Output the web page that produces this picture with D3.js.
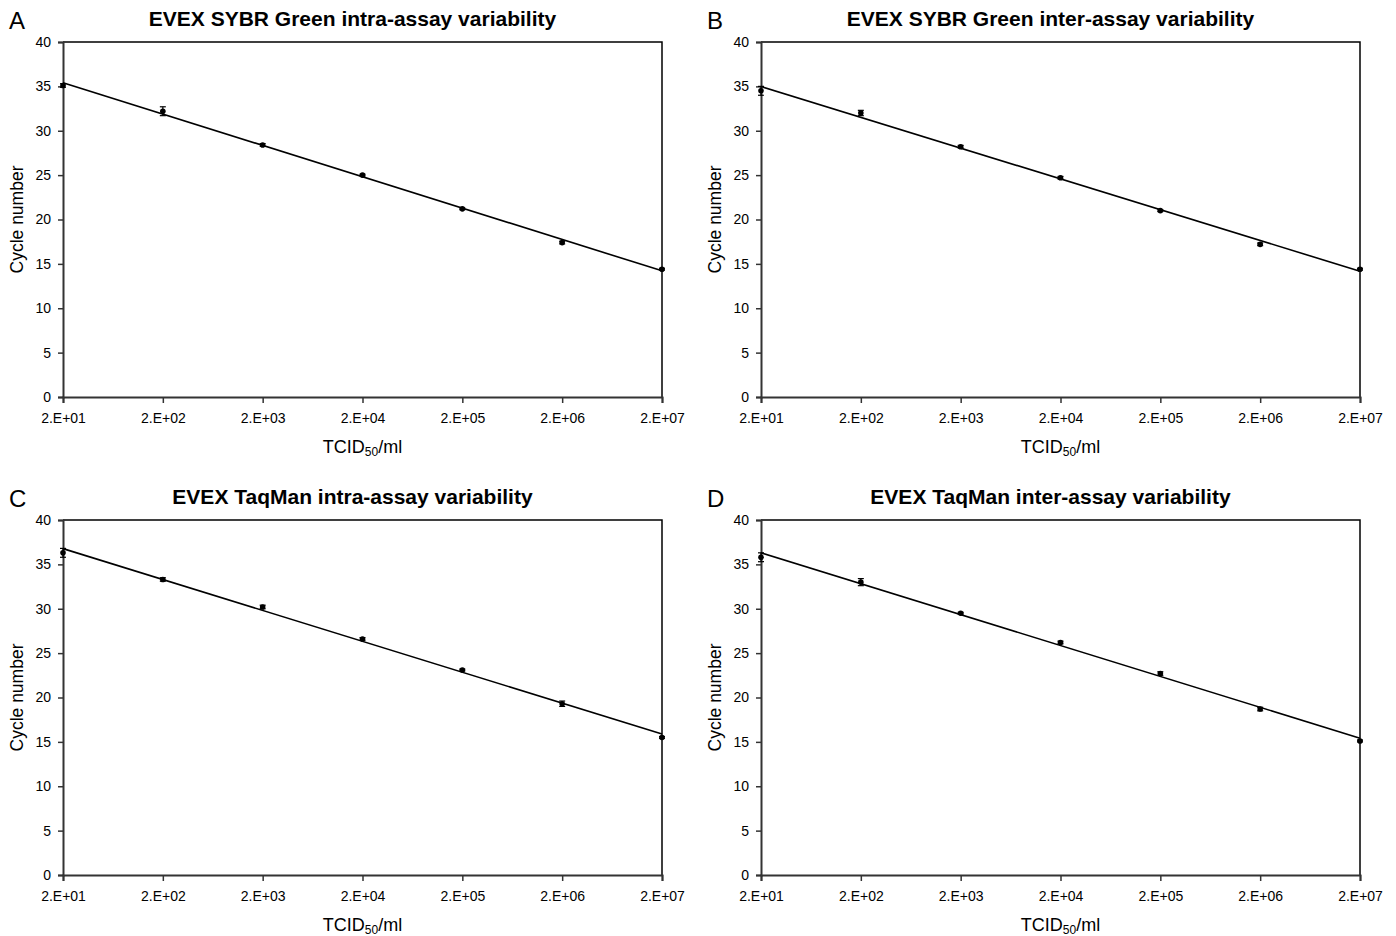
<!DOCTYPE html>
<html>
<head>
<meta charset="utf-8">
<script src="https://cdn.jsdelivr.net/npm/d3@7"></script>
<style>
  body { margin: 0; background: #fff; }
  text { font-family: "Liberation Sans", Arial, sans-serif; fill: #000; }
</style>
</head>
<body>
<svg id="chart" width="1396" height="936"></svg>
<script>
// x categories (log10 steps of TCID50/ml)
const xLabels = ["2.E+01", "2.E+02", "2.E+03", "2.E+04", "2.E+05", "2.E+06", "2.E+07"];
const yTicks = [0, 5, 10, 15, 20, 25, 30, 35, 40];

const panelLetters = ["A", "B", "C", "D"];
const panelTitles = [
  "EVEX SYBR Green intra-assay variability",
  "EVEX SYBR Green inter-assay variability",
  "EVEX TaqMan intra-assay variability",
  "EVEX TaqMan inter-assay variability"
];

// mean cycle numbers per dilution
const sybrIntra = [35.1, 32.2, 28.4, 25.0, 21.2, 17.4, 14.4];
const sybrInter = [34.5, 32.0, 28.2, 24.7, 21.0, 17.2, 14.4];
const taqIntra  = [36.3, 33.3, 30.2, 26.6, 23.1, 19.3, 15.5];
const taqInter  = [35.8, 33.0, 29.5, 26.2, 22.7, 18.7, 15.1];

// standard deviations (error bars)
const sybrIntraSd = [0.2, 0.5, 0.15, 0.1, 0.1, 0.15, 0.1];
const sybrInterSd = [0.5, 0.3, 0.15, 0.15, 0.1, 0.15, 0.1];
const taqIntraSd  = [0.5, 0.2, 0.2, 0.15, 0.1, 0.3, 0.1];
const taqInterSd  = [0.5, 0.4, 0.1, 0.15, 0.2, 0.2, 0.1];

const series = [sybrIntra, sybrInter, taqIntra, taqInter];
const errors = [sybrIntraSd, sybrInterSd, taqIntraSd, taqInterSd];

const svg = d3.select("#chart");

// plot area origins for each panel
const panelPos = [
  { left: 63, top: 42 },
  { left: 761, top: 42 },
  { left: 63, top: 520 },
  { left: 761, top: 520 }
];
const plotW = 599, plotH = 355;

panelPos.forEach((p, i) => {
  const g = svg.append("g").attr("transform", `translate(${p.left},${p.top})`);

  const x = d3.scaleLinear().domain([0, xLabels.length - 1]).range([0, plotW]);
  const y = d3.scaleLinear().domain([0, 40]).range([plotH, 0]);

  // frame (top + right)
  g.append("path")
    .attr("d", `M0,0H${plotW}V${plotH}`)
    .attr("fill", "none")
    .attr("stroke", "#000")
    .attr("stroke-width", 1.5);

  // y axis
  const yAxis = g.append("g")
    .call(d3.axisLeft(y).tickValues(yTicks).tickSize(5).tickPadding(7).tickFormat(d3.format("d")));
  yAxis.select(".domain").attr("stroke", "#333").attr("stroke-width", 2);
  yAxis.selectAll(".tick line").attr("stroke", "#333").attr("stroke-width", 1.5);
  yAxis.selectAll("text").style("font-size", "14px").style("font-family", "Liberation Sans, Arial, sans-serif");

  // x axis
  const xAxis = g.append("g")
    .attr("transform", `translate(0,${plotH})`)
    .call(d3.axisBottom(x).ticks(7).tickSize(6).tickPadding(10).tickFormat((d, k) => xLabels[k]));
  xAxis.select(".domain").attr("stroke", "#333").attr("stroke-width", 2);
  xAxis.selectAll(".tick line").attr("stroke", "#333").attr("stroke-width", 1.5);
  xAxis.selectAll("text").style("font-size", "14px").style("font-family", "Liberation Sans, Arial, sans-serif");

  // regression line
  const data = series[i];
  const xs = data.map((d, k) => k);
  const mx = d3.mean(xs), my = d3.mean(data);
  const slope = d3.sum(xs, (k) => (k - mx) * (data[k] - my)) / d3.sum(xs, (k) => (k - mx) ** 2);
  const icpt = my - slope * mx;
  const x0 = 0, x1 = xLabels.length - 1;
  g.append("line")
    .attr("x1", x(x0)).attr("y1", y(icpt + slope * x0))
    .attr("x2", x(x1)).attr("y2", y(icpt + slope * x1))
    .attr("stroke", "#000")
    .attr("stroke-width", 1.6);

  // error bars
  const sd = errors[i];
  const eb = g.selectAll(".err").data(data).join("g").attr("class", "err");
  eb.append("line")
    .attr("x1", (d, k) => x(k)).attr("x2", (d, k) => x(k))
    .attr("y1", (d, k) => y(d - sd[k])).attr("y2", (d, k) => y(d + sd[k]))
    .attr("stroke", "#000").attr("stroke-width", 1.2);
  [-1, 1].forEach((s) => {
    eb.append("line")
      .attr("x1", (d, k) => x(k) - 3).attr("x2", (d, k) => x(k) + 3)
      .attr("y1", (d, k) => y(d + s * sd[k])).attr("y2", (d, k) => y(d + s * sd[k]))
      .attr("stroke", "#000").attr("stroke-width", 1.2);
  });

  // points
  g.selectAll("circle")
    .data(data)
    .join("circle")
    .attr("cx", (d, k) => x(k))
    .attr("cy", (d) => y(d))
    .attr("r", 2.8)
    .attr("fill", "#000");

  // panel letter
  svg.append("text")
    .attr("x", p.left - 54)
    .attr("y", p.top - 13)
    .style("font-size", "24px")
    .text(panelLetters[i]);

  // title
  svg.append("text")
    .attr("x", p.left + plotW / 2 - 10)
    .attr("y", p.top - 16)
    .attr("text-anchor", "middle")
    .style("font-size", "21px")
    .style("font-weight", "bold")
    .text(panelTitles[i]);

  // y title
  svg.append("text")
    .attr("transform", `translate(${p.left - 40},${p.top + plotH / 2}) rotate(-90)`)
    .attr("text-anchor", "middle")
    .style("font-size", "17.5px")
    .text("Cycle number");

  // x title with subscript
  const xt = svg.append("text")
    .attr("x", p.left + plotW / 2)
    .attr("y", p.top + plotH + 56)
    .attr("text-anchor", "middle")
    .style("font-size", "18px");
  xt.append("tspan").text("TCID");
  xt.append("tspan").attr("dy", 3).style("font-size", "12px").text("50");
  xt.append("tspan").attr("dy", -3).text("/ml");
});
</script>
</body>
</html>
